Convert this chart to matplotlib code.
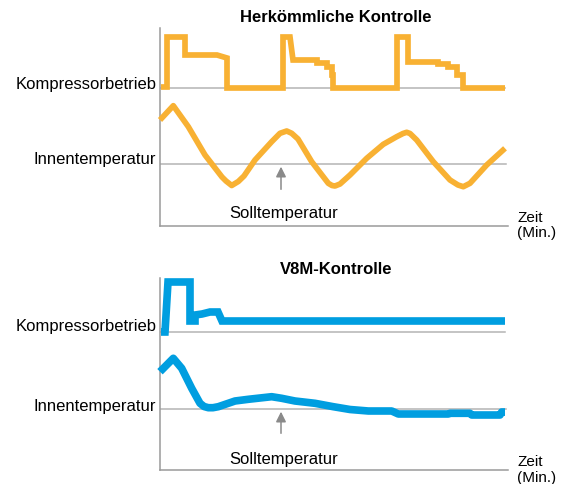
import matplotlib
matplotlib.use("Agg")
import matplotlib.pyplot as plt

plt.rcParams['font.family'] = ['Liberation Sans', 'DejaVu Sans']

ORANGE = '#F8B133'
BLUE = '#009EE0'
GRID = '#b4b4b4'
AXIS = '#9a9a9a'

# --- Herkömmliche Kontrolle (time, level) ---
conv_comp_t = [1, 7, 7, 25, 25, 57, 67, 67, 123, 123, 130, 133, 157, 157, 167, 167,
               172, 172, 173, 173, 237, 237, 248, 248, 278, 278, 288, 288, 297, 297,
               303, 303, 345]
conv_comp_y = [139, 139, 189, 189, 171, 171, 168, 138, 138, 189, 189, 166, 166, 163,
               163, 159, 159, 151, 151, 138, 138, 189, 189, 164, 164, 162, 162, 159,
               159, 151, 151, 138, 138]
conv_temp_t = [0, 13.3, 28.3, 45, 62, 66, 71.7, 78.3, 84, 95, 111.7, 120, 126.7,
               131.7, 138, 151.7, 168.3, 172, 175, 180, 190, 206.7, 223.3, 236.7,
               243, 246.7, 250, 256.7, 273.3, 290, 298, 303.3, 310, 326.7, 345]
conv_temp_y = [106, 120.3, 99.3, 71, 49, 45, 40.5, 44.5, 50, 66, 84.3, 92.7, 95,
               92.7, 87, 64.3, 42.7, 40.5, 40, 42, 51, 67.7, 81.7, 89.3,
               92.5, 93.7, 92.5, 86, 64.3, 46, 41, 39.3, 42.7, 61, 77.7]

# --- V8M-Kontrolle ---
v8m_comp_t = [1, 5, 8, 30, 30, 35, 35, 42, 50, 58, 62, 345]
v8m_comp_y = [138, 138, 188, 188, 149, 149, 155, 156, 158, 158, 149, 149]
v8m_temp_t = [0, 13.3, 21.7, 31.7, 40, 44, 48.3, 53, 58.3, 75, 88.3, 111.7, 121.7,
              135, 155, 173.3, 190, 208.3, 231.7, 238.3, 288.3, 290, 310, 311.7,
              340, 341.7, 345]
v8m_temp_y = [98.3, 111.7, 101.7, 81.7, 66.7, 63.5, 62.3, 62.3, 63.3, 69, 70.7,
              73.3, 71.7, 69, 66.7, 63.3, 60.5, 59, 59, 56, 56, 56.7, 56.7, 55,
              55, 58, 58]

panels = [
    dict(title='Herkömmliche Kontrolle', top=28, bottom=226, title_y=209,
         comp=(conv_comp_t, conv_comp_y), temp=(conv_temp_t, conv_temp_y),
         color=ORANGE, lw=4.1, base=138, setp=61.7, lab_c=141, lab_i=66.7,
         arrow=(36.7, 59.3), soll=12.7, zeit=(8, -6.7)),
    dict(title='V8M-Kontrolle', top=278, bottom=470, title_y=200,
         comp=(v8m_comp_t, v8m_comp_y), temp=(v8m_temp_t, v8m_temp_y),
         color=BLUE, lw=5.5, base=137.7, setp=60.7, lab_c=143.5, lab_i=63,
         arrow=(36.7, 58.3), soll=10.7, zeit=(8.3, -8.3)),
]

W, H = 568, 484
fig = plt.figure(figsize=(W / 100, H / 100), dpi=100)

for p in panels:
    h = p['bottom'] - p['top']
    ax = fig.add_axes([160 / W, (H - p['bottom']) / H, 348 / W, h / H])
    ax.set_xlim(0, 348)
    ax.set_ylim(0, h)
    for s in ['top', 'right']:
        ax.spines[s].set_visible(False)
    for s in ['left', 'bottom']:
        ax.spines[s].set_color(AXIS)
        ax.spines[s].set_linewidth(1.1)
    ax.set_xticks([])
    ax.set_yticks([])
    ax.patch.set_visible(False)

    ax.plot([0, 345], [p['base'], p['base']], color=GRID, lw=1.1, zorder=1)
    ax.plot([0, 346], [p['setp'], p['setp']], color=GRID, lw=1.1, zorder=1)

    ax.plot(*p['comp'], color=p['color'], lw=p['lw'], solid_joinstyle='miter',
            solid_capstyle='butt', zorder=3, clip_on=False)
    ax.plot(*p['temp'], color=p['color'], lw=p['lw'], solid_joinstyle='round',
            solid_capstyle='butt', zorder=3, clip_on=False)

    ax.annotate('', xy=(121, p['arrow'][1]), xytext=(121, p['arrow'][0]),
                arrowprops=dict(arrowstyle='-|>', color='#8a8a8a', lw=1.1,
                                mutation_scale=15, shrinkA=0, shrinkB=0))

    ax.text(176, p['title_y'], p['title'], ha='center', va='center',
            fontsize=12, fontweight='bold', clip_on=False)
    ax.text(-3.5, p['lab_c'], 'Kompressorbetrieb', ha='right', va='center',
            fontsize=12, clip_on=False)
    ax.text(-4, p['lab_i'], 'Innentemperatur', ha='right', va='center',
            fontsize=12, clip_on=False)
    ax.text(69, p['soll'], 'Solltemperatur', ha='left', va='center',
            fontsize=12, clip_on=False)
    ax.text(357.5, p['zeit'][0], 'Zeit', ha='left', va='center', fontsize=11,
            clip_on=False)
    ax.text(357.5, p['zeit'][1], '(Min.)', ha='left', va='center', fontsize=11,
            clip_on=False)

fig.savefig('out.png', dpi=100)
